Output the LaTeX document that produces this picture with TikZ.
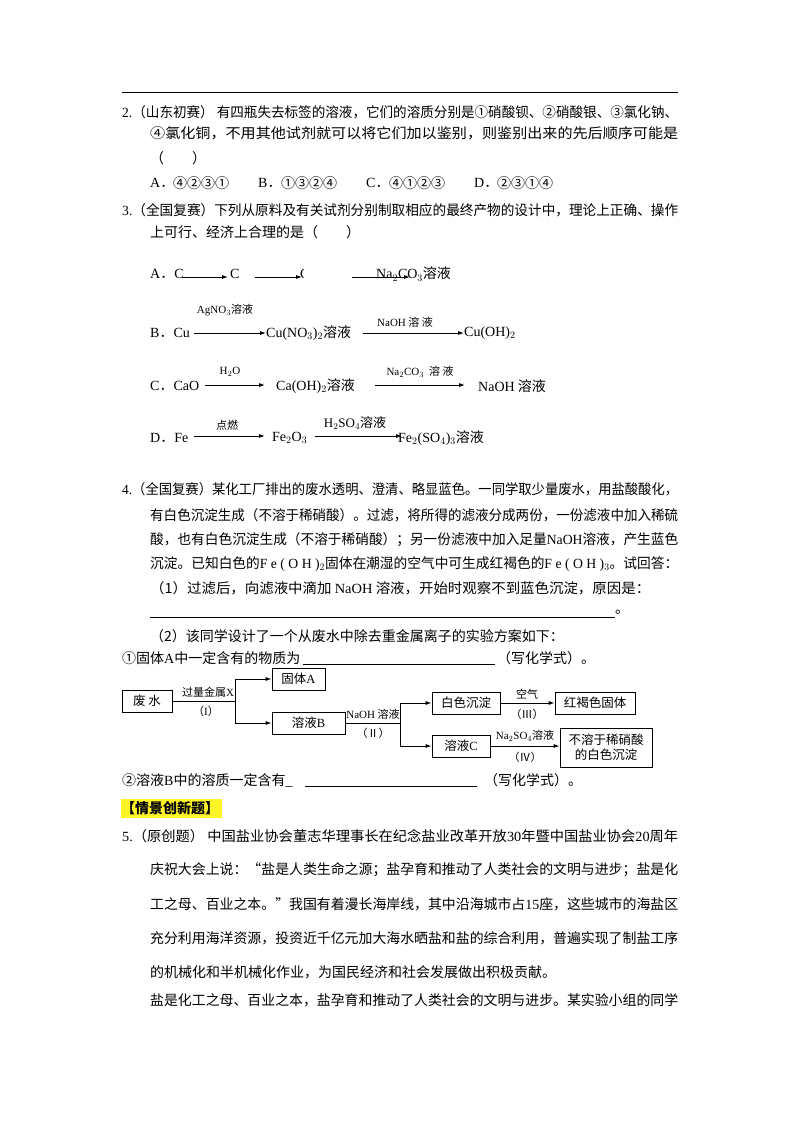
\documentclass[tikz,border=0pt]{standalone}
\usepackage{fontspec}
\usepackage{graphicx}
\setmainfont{Noto Sans CJK SC}
\newfontfamily\lat{Liberation Serif}
\usetikzlibrary{arrows.meta}
\newcommand{\fl}[2]{\resizebox{#1pt}{\height}{#2}}
\begin{document}
\begin{tikzpicture}[x=1pt,y=-1pt,font=\fontsize{14}{16}\selectfont,
  t/.style={anchor=west,inner sep=0pt},
  sm/.style={font=\fontsize{11}{12}\selectfont,inner sep=0pt},
  bx/.style={draw,line width=0.8pt,inner sep=0pt,font=\fontsize{12.5}{15}\selectfont},
  ar/.style={-{Latex[length=6pt,width=4pt]},line width=0.9pt},
  ln/.style={line width=0.8pt}]
\path[use as bounding box,fill=white] (0,0) rectangle (800,1132);
\draw[line width=0.8pt] (122,92) -- (678,92);
% Q2
\node[t] at (122,112) {\fl{556}{{\lat 2.}（山东初赛） 有四瓶失去标签的溶液，它们的溶质分别是①硝酸钡、②硝酸银、③氯化钠、}};
\node[t] at (150,133) {\fl{528}{④氯化铜，不用其他试剂就可以将它们加以鉴别，则鉴别出来的先后顺序可能是}};
\node[t] at (150,158) {（　　）};
\node[t] at (150,183) {{\lat A}．};\node[t] at (173,183) {④②③①};
\node[t] at (258,183) {{\lat B}．};\node[t] at (281,183) {①③②④};
\node[t] at (366,183) {{\lat C}．};\node[t] at (389,183) {④①②③};
\node[t] at (474,183) {{\lat D}．};\node[t] at (497,183) {②③①④};
% Q3
\node[t] at (122,210) {\fl{556}{{\lat 3.}（全国复赛）下列从原料及有关试剂分别制取相应的最终产物的设计中，理论上正确、操作}};
\node[t] at (150,232) {上可行、经济上合理的是（　　）};
% A
\node[t] (a0) at (150,274) {{\lat A}．{\lat C}};
\node[t] (a1) at (230,274) {\lat C};
\node[t] (a2) at (300,274) {\lat C};
\node[t] (a3) at (376,274) {{\lat Na$_2$CO$_3$}溶液};
\coordinate (p1) at (182,277);\coordinate (p2) at (228,277);
\coordinate (p3) at (255,277);\coordinate (p4) at (302,277);
\coordinate (p5) at (352,277);\coordinate (p6) at (410,277);
\fill[white] (304,262) rectangle (312,286);
\draw[ar] (p1) -- (p2); \draw[ar] (p3) -- (p4); \draw[ar] (p5) -- (p6);
% B
\node[t] (b0) at (150,333) {{\lat B}．{\lat Cu}};
\node[t] (b1) at (266,333) {{\lat Cu(NO$_3$)$_2$}溶液};
\node[t] (b2) at (464,333) {\lat Cu(OH)$_2$};
\draw[ar] (194,333) -- (b1.west);
\draw[ar] (363,333) -- (b2.west);
\node[sm] at (225,310) {{\lat AgNO$_3$}溶液};
\node[sm] at (405,322) {{\lat NaOH} 溶 液};
% C
\node[t] (c0) at (150,386) {{\lat C}．{\lat CaO}};
\node[t] (c1) at (276,386) {{\lat Ca(OH)$_2$}溶液};
\node[t] (c2) at (478,386) {{\lat NaOH} 溶液};
\draw[ar] (205,385) -- (265,385);
\draw[ar] (375,385) -- (465,385);
\node[sm] at (230,372) {\lat H$_2$O};
\node[sm] at (420,372) {{\lat Na$_2$CO$_3$}\ \ 溶\ 液};
% D
\node[t] (d0) at (150,438) {{\lat D}．{\lat Fe}};
\node[t] (d1) at (272,438) {\lat Fe$_2$O$_3$};
\node[t] (d2) at (398,438) {{\lat Fe$_2$(SO$_4$)$_3$}溶液};
\draw[ar] (194,436) -- (265,436);
\draw[ar] (315,436) -- (402,436);
\node[sm] at (227,425) {点燃};
\node[font=\fontsize{13}{14}\selectfont,inner sep=0pt] at (355,423) {{\lat H$_2$SO$_4$}溶液};
% Q4
\node[t] at (122,489) {\fl{556}{{\lat 4.}（全国复赛）某化工厂排出的废水透明、澄清、略显蓝色。一同学取少量废水，用盐酸酸化，}};
\node[t] at (150,515) {\fl{528}{有白色沉淀生成（不溶于稀硝酸）。过滤，将所得的滤液分成两份，一份滤液中加入稀硫}};
\node[t] at (150,540) {\fl{528}{酸，也有白色沉淀生成（不溶于稀硝酸）；另一份滤液中加入足量{\lat NaOH}溶液，产生蓝色}};
\node[t] at (150,564) {\fl{528}{沉淀。已知白色的{\lat F e ( O H )$_2$}固体在潮湿的空气中可生成红褐色的{\lat F e ( O H )$_3$}。试回答：}};
\node[t] at (150,588) {\fl{500}{（1）过滤后，向滤液中滴加 {\lat NaOH} 溶液，开始时观察不到蓝色沉淀，原因是：}};
\draw[ln] (150,617) -- (615,617); \node[t] at (615,612) {。};
\node[t] at (150,636) {（2）该同学设计了一个从废水中除去重金属离子的实验方案如下：};
\node[t] at (122,658) {①固体{\lat A}中一定含有的物质为};
\draw[ln] (303,664) -- (495,664);
\node[t] at (497,658) {（写化学式）。};
% flow
\node[bx,minimum width=50pt,minimum height=22pt] (w) at (147,701) {废\ 水};
\node[bx,minimum width=53pt,minimum height=22pt] (A) at (298.5,679) {固体{\lat A}};
\node[bx,minimum width=73pt,minimum height=22pt] (B) at (308.5,723) {溶液{\lat B}};
\node[bx,minimum width=68pt,minimum height=22pt] (W) at (466,703) {白色沉淀};
\node[bx,minimum width=80pt,minimum height=22pt] (R) at (595,703) {红褐色固体};
\node[bx,minimum width=58pt,minimum height=22pt] (C) at (461,746) {溶液{\lat C}};
\node[bx,minimum width=92pt,minimum height=39pt,align=center] (N) at (606,747.5) {不溶于稀硝酸\\的白色沉淀};
\coordinate (j1) at (235,701); \coordinate (j2) at (400,723);
\draw[ln] (w.east) -- (j1);
\draw[ar] (j1) |- (A.west); \draw[ar] (j1) |- (B.west);
\draw[ln] (B.east) -- (j2);
\draw[ar] (j2) |- (W.west); \draw[ar] (j2) |- (C.west);
\draw[ar] (W.east) -- (R.west);
\draw[ar] (C.east) -- (N.west |- C.east);
\node[sm] at (208,692) {过量金属{\lat X}};
\node[sm] at (206,711) {（{\lat I}）};
\node[sm] at (373,714) {{\lat NaOH} 溶液};
\node[sm] at (373,733) {（Ⅱ）};
\node[sm] at (527,694) {空气};
\node[sm] at (527,714) {（Ⅲ）};
\node[sm] at (525,736) {{\lat Na$_2$SO$_4$}溶液};
\node[sm] at (525,757) {（Ⅳ）};
\node[t] at (122,780) {②溶液{\lat B}中的溶质一定含有{\lat \_}};
\draw[ln] (305,786) -- (477,786);
\node[t] at (484,780) {（写化学式）。};
% section
\fill[yellow!85!white] (121,799) rectangle (222,818);
\node[t,font=\fontsize{14}{16}\selectfont\bfseries] at (121,808) {【情景创新题】};
% Q5
\node[t] at (122,836) {\fl{556}{{\lat 5.}（原创题） 中国盐业协会董志华理事长在纪念盐业改革开放{\lat 30}年暨中国盐业协会{\lat 20}周年}};
\node[t] at (150,870) {\fl{528}{庆祝大会上说：“盐是人类生命之源；盐孕育和推动了人类社会的文明与进步；盐是化}};
\node[t] at (150,904) {\fl{528}{工之母、百业之本。”我国有着漫长海岸线，其中沿海城市占{\lat 15}座，这些城市的海盐区}};
\node[t] at (150,938) {\fl{528}{充分利用海洋资源，投资近千亿元加大海水晒盐和盐的综合利用，普遍实现了制盐工序}};
\node[t] at (150,972) {的机械化和半机械化作业，为国民经济和社会发展做出积极贡献。};
\node[t] at (150,1000) {\fl{528}{盐是化工之母、百业之本，盐孕育和推动了人类社会的文明与进步。某实验小组的同学}};
\end{tikzpicture}
\end{document}
